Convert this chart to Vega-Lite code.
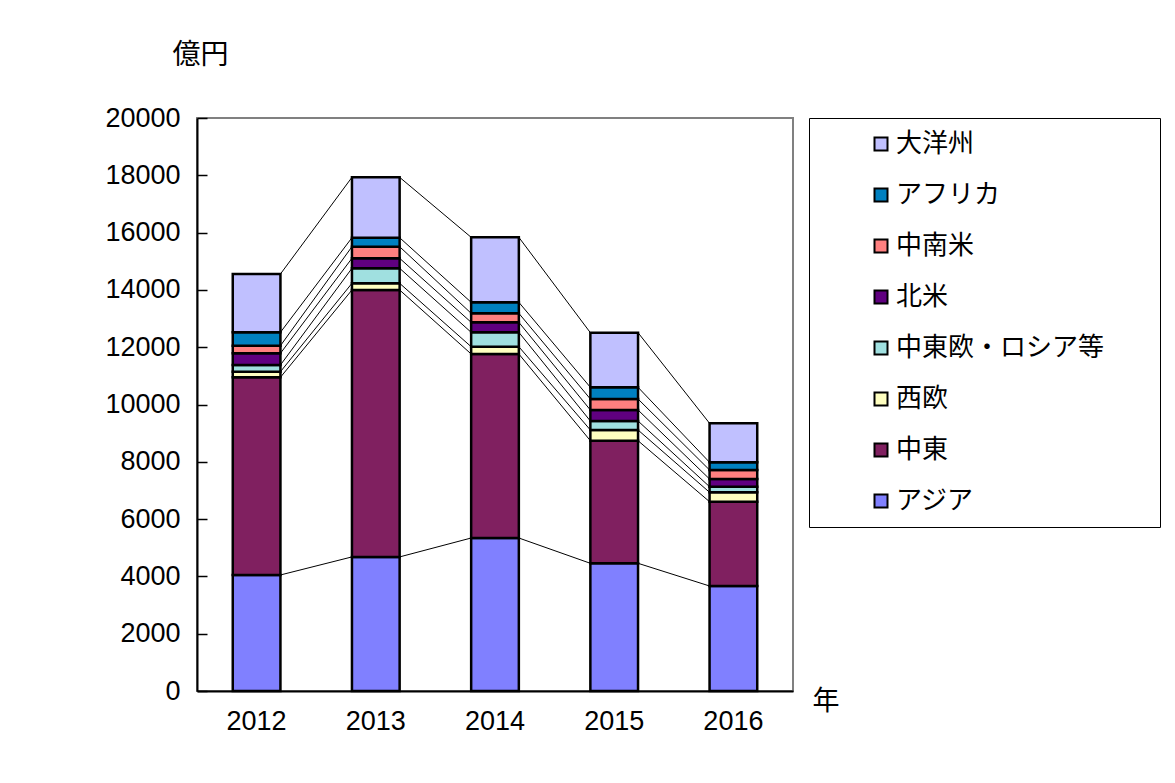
{
  "$schema": "https://vega.github.io/schema/vega-lite/v6.json",
  "autosize": {"type": "none"},
  "padding": {"left": 197, "top": 118, "right": 382, "bottom": 92},
  "width": 596,
  "height": 573,
  "background": "white",
  "config": {
    "view": {"stroke": "#808080", "strokeWidth": 2},
    "font": "Noto Sans CJK JP"
  },
  "data": {
    "values": [
      {"year": "2012", "region": "アジア", "k": 1, "value": 4050},
      {"year": "2012", "region": "中東", "k": 2, "value": 6900},
      {"year": "2012", "region": "西欧", "k": 3, "value": 195},
      {"year": "2012", "region": "中東欧・ロシア等", "k": 4, "value": 234},
      {"year": "2012", "region": "北米", "k": 5, "value": 408},
      {"year": "2012", "region": "中南米", "k": 6, "value": 266},
      {"year": "2012", "region": "アフリカ", "k": 7, "value": 467},
      {"year": "2012", "region": "大洋州", "k": 8, "value": 2035},
      {"year": "2013", "region": "アジア", "k": 1, "value": 4680},
      {"year": "2013", "region": "中東", "k": 2, "value": 9317},
      {"year": "2013", "region": "西欧", "k": 3, "value": 233},
      {"year": "2013", "region": "中東欧・ロシア等", "k": 4, "value": 524},
      {"year": "2013", "region": "北米", "k": 5, "value": 349},
      {"year": "2013", "region": "中南米", "k": 6, "value": 405},
      {"year": "2013", "region": "アフリカ", "k": 7, "value": 314},
      {"year": "2013", "region": "大洋州", "k": 8, "value": 2108},
      {"year": "2014", "region": "アジア", "k": 1, "value": 5340},
      {"year": "2014", "region": "中東", "k": 2, "value": 6423},
      {"year": "2014", "region": "西欧", "k": 3, "value": 254},
      {"year": "2014", "region": "中東欧・ロシア等", "k": 4, "value": 503},
      {"year": "2014", "region": "北米", "k": 5, "value": 349},
      {"year": "2014", "region": "中南米", "k": 6, "value": 314},
      {"year": "2014", "region": "アフリカ", "k": 7, "value": 384},
      {"year": "2014", "region": "大洋州", "k": 8, "value": 2269},
      {"year": "2015", "region": "アジア", "k": 1, "value": 4457},
      {"year": "2015", "region": "中東", "k": 2, "value": 4279},
      {"year": "2015", "region": "西欧", "k": 3, "value": 374},
      {"year": "2015", "region": "中東欧・ロシア等", "k": 4, "value": 314},
      {"year": "2015", "region": "北米", "k": 5, "value": 384},
      {"year": "2015", "region": "中南米", "k": 6, "value": 384},
      {"year": "2015", "region": "アフリカ", "k": 7, "value": 408},
      {"year": "2015", "region": "大洋州", "k": 8, "value": 1906},
      {"year": "2016", "region": "アジア", "k": 1, "value": 3665},
      {"year": "2016", "region": "中東", "k": 2, "value": 2942},
      {"year": "2016", "region": "西欧", "k": 3, "value": 328},
      {"year": "2016", "region": "中東欧・ロシア等", "k": 4, "value": 196},
      {"year": "2016", "region": "北米", "k": 5, "value": 269},
      {"year": "2016", "region": "中南米", "k": 6, "value": 314},
      {"year": "2016", "region": "アフリカ", "k": 7, "value": 269},
      {"year": "2016", "region": "大洋州", "k": 8, "value": 1361}
    ]
  },
  "transform": [
    {"stack": "value", "groupby": ["year"], "sort": [{"field": "k", "order": "ascending"}], "as": ["y0", "y1"]}
  ],
  "layer": [
    {
      "mark": {"type": "bar", "stroke": "black", "strokeWidth": 2.5},
      "encoding": {
        "x": {
          "field": "year", "type": "ordinal",
          "scale": {"paddingInner": 0.6, "paddingOuter": 0.3},
          "axis": {
            "title": "年", "titleAngle": 0, "titleFontSize": 27, "titleFontWeight": "normal",
            "titleFont": "Noto Sans CJK JP", "titleX": 615, "titleY": 10, "titleAlign": "left", "titleBaseline": "middle",
            "labelAngle": 0, "labelFontSize": 27, "labelFont": "Liberation Sans", "labelColor": "black",
            "labelPadding": 17, "ticks": false, "domainColor": "black", "domainWidth": 2
          }
        },
        "y": {
          "field": "y0", "type": "quantitative",
          "scale": {"domain": [0, 20000], "nice": false},
          "axis": {
            "title": "億円", "titleAngle": 0, "titleFontSize": 28, "titleFontWeight": "normal",
            "titleFont": "Noto Sans CJK JP", "titleX": -25, "titleY": -63, "titleAlign": "left", "titleBaseline": "middle",
            "values": [0, 2000, 4000, 6000, 8000, 10000, 12000, 14000, 16000, 18000, 20000],
            "format": "d",
            "labelFontSize": 27, "labelFont": "Liberation Sans", "labelColor": "black",
            "tickSize": -10, "tickColor": "black", "tickWidth": 1.5, "labelPadding": 27,
            "grid": false, "domainColor": "black", "domainWidth": 2
          }
        },
        "y2": {"field": "y1"},
        "color": {
          "field": "region", "type": "nominal",
          "scale": {
            "domain": ["大洋州", "アフリカ", "中南米", "北米", "中東欧・ロシア等", "西欧", "中東", "アジア"],
            "range": ["#c0c0ff", "#0080c0", "#ff8080", "#600080", "#a0e0e0", "#ffffc0", "#802060", "#8080ff"]
          },
          "legend": {
            "orient": "none", "legendX": 612, "legendY": 0,
            "title": "年", "titleOrient": "right", "titleFontSize": 42, "titlePadding": 0, "titleOpacity": 0,
            "strokeColor": "black", "padding": 13,
            "symbolType": "square", "symbolSize": 169, "symbolStrokeColor": "black", "symbolStrokeWidth": 2,
            "symbolOffset": 46, "labelFontSize": 26, "labelFont": "Noto Sans CJK JP", "labelColor": "black",
            "labelOffset": 2, "rowPadding": 25, "labelLimit": 400
          }
        },
        "order": {"field": "k", "type": "quantitative"}
      }
    },
    {
      "transform": [
        {"window": [{"op": "lead", "field": "y1", "as": "ny1"}, {"op": "lead", "field": "year", "as": "nyear"}],
         "groupby": ["region"], "sort": [{"field": "year", "order": "ascending"}]},
        {"filter": "datum.nyear != null"}
      ],
      "mark": {"type": "rule", "color": "black", "strokeWidth": 1},
      "encoding": {
        "x": {"field": "year", "type": "ordinal", "bandPosition": 1},
        "x2": {"field": "nyear", "bandPosition": 0},
        "y": {"field": "y1", "type": "quantitative"},
        "y2": {"field": "ny1"}
      }
    }
  ]
}
